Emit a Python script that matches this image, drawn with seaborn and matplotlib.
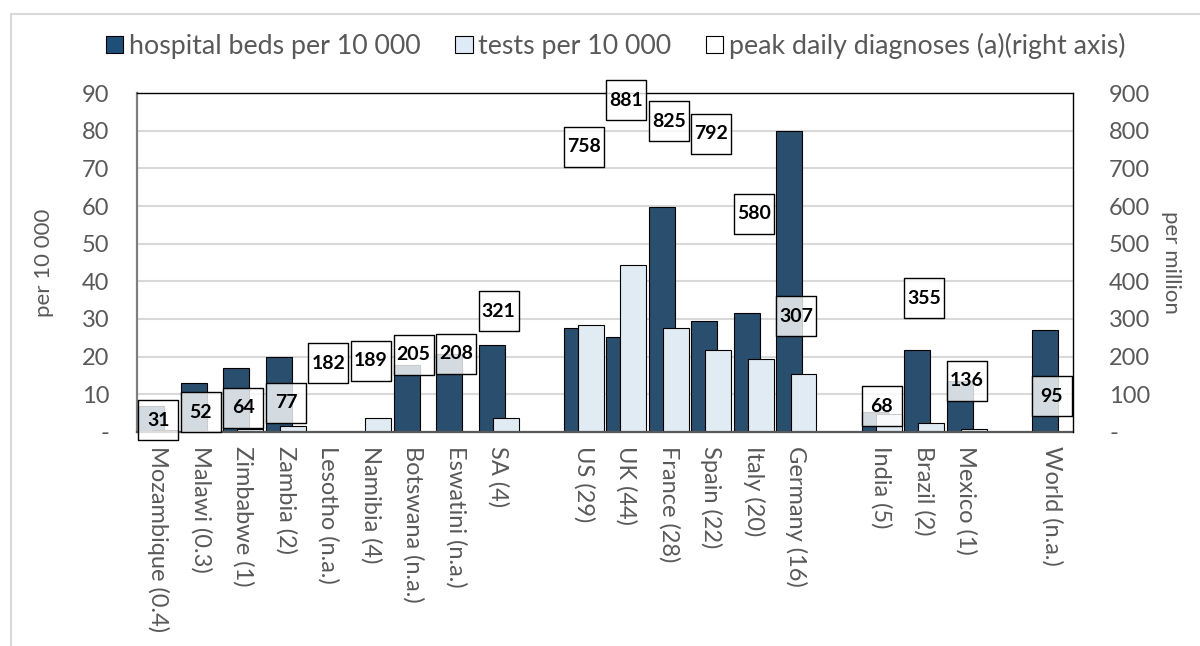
import numpy as np
import pandas as pd
import seaborn as sns
from matplotlib import pyplot as plt
from matplotlib.patches import Patch, Rectangle

# Categories (blank entries are the gaps between country groups)
countries = ["Mozambique (0.4)", "Malawi (0.3)", "Zimbabwe (1)", "Zambia (2)", "Lesotho (n.a.)",
             "Namibia (4)", "Botswana (n.a.)", "Eswatini (n.a.)", "SA (4)", " ",
             "US (29)", "UK (44)", "France (28)", "Spain (22)", "Italy (20)", "Germany (16)", "  ",
             "India (5)", "Brazil (2)", "Mexico (1)", "   ", "World (n.a.)"]
nan = np.nan
hospital_beds = [6.9, 13, 17, 20, nan, nan, 17.8, 20.8, 23.1, nan,
                 27.6, 25.3, 59.8, 29.6, 31.6, 80, nan,
                 5.2, 21.8, 13.6, nan, 27]
tests = [0.4, 0.3, 0.7, 1.6, nan, 3.6, nan, nan, 3.8, nan,
         28.5, 44.4, 27.6, 21.8, 19.5, 15.3, nan,
         4.8, 2.3, 0.7, nan, nan]
peak_diagnoses = [31, 52, 64, 77, 182, 189, 205, 208, 321, nan,
                  758, 881, 825, 792, 580, 307, nan,
                  68, 355, 136, nan, 95]

series_names = ["hospital beds per 10 000", "tests per 10 000"]
peak_name = "peak daily diagnoses (a)(right axis)"
dark_blue = "#1f4e79"
light_blue = "#deebf7"
grey_text = "#595959"


def main():
    sns.set_style("white")
    plt.rcParams["font.family"] = ["Lato", "DejaVu Sans"]

    bars_df = pd.DataFrame({
        "country": countries * 2,
        "series": [series_names[0]] * len(countries) + [series_names[1]] * len(countries),
        "value": hospital_beds + tests,
    })
    peak_df = pd.DataFrame({"country": countries, "peak": peak_diagnoses}).dropna()
    peak_df["pos"] = [countries.index(c) for c in peak_df["country"]]

    fig = plt.figure(figsize=(12, 6.46), dpi=100)
    ax = fig.add_axes([0.1142, 0.3313, 0.7800, 0.5247])

    sns.barplot(data=bars_df, x="country", y="value", hue="series", order=countries,
                hue_order=series_names, palette=[dark_blue, light_blue], width=0.66,
                dodge=True, errorbar=None, edgecolor="black", linewidth=0.8,
                legend=False, ax=ax)
    # Excel-style overlapping bars: widen each bar around its own centre
    for bar in ax.patches:
        cx = bar.get_x() + bar.get_width() / 2
        bar.set_width(0.61)
        bar.set_x(cx - 0.305)

    ax.set_xlim(-0.5, len(countries) - 0.5)
    ax.set_ylim(0, 90)
    ax.set_yticks(range(0, 91, 10))
    ax.set_yticklabels(["-"] + [str(v) for v in range(10, 91, 10)])
    ax.yaxis.grid(True, color="#d9d9d9", linewidth=1.5)
    ax.set_axisbelow(True)
    ax.set_xlabel("")
    ax.set_ylabel("per 10 000", fontsize=16, color=grey_text, labelpad=20)
    ax.tick_params(axis="y", length=0, pad=20, labelsize=17, labelcolor=grey_text)
    ax.tick_params(axis="x", length=0, pad=10, labelcolor=grey_text, labelsize=17,
                   labelrotation=270)

    ax2 = ax.twinx()
    ax2.set_ylim(0, 900)
    ax2.set_yticks(range(0, 901, 100))
    ax2.set_yticklabels(["-"] + [str(v) for v in range(100, 901, 100)])
    ax2.tick_params(axis="y", length=0, pad=26, labelsize=17, labelcolor=grey_text)
    ax2.set_ylabel("per million", fontsize=16, color=grey_text, rotation=270, labelpad=22)

    sns.scatterplot(data=peak_df, x="pos", y="peak", marker="s", s=800,
                    facecolor=(1, 1, 1, 0.8), edgecolor="black", linewidth=1,
                    clip_on=False, zorder=5, legend=False, ax=ax2)
    for _, row in peak_df.iterrows():
        ax2.text(row["pos"], row["peak"], f"{int(row['peak'])}", ha="center", va="center",
                 fontsize=14, fontweight="bold", color="black", zorder=6, clip_on=False)
    ax2.set_xlim(-0.5, len(countries) - 0.5)
    ax2.set_xlabel("")

    # Spines
    for side in ["top", "right"]:
        ax.spines[side].set_visible(False)
    for side in ["left", "bottom"]:
        ax2.spines[side].set_visible(False)
    ax.spines["left"].set_color("#7f7f7f")
    ax.spines["left"].set_linewidth(1.6)
    ax.spines["bottom"].set_color("#595959")
    ax.spines["bottom"].set_linewidth(1.6)
    ax2.spines["top"].set_color("black")
    ax2.spines["right"].set_color("black")
    ax2.spines["top"].set_linewidth(1)
    ax2.spines["right"].set_linewidth(1)

    handles = [Patch(facecolor=dark_blue, edgecolor="black", linewidth=0.8),
               Patch(facecolor=light_blue, edgecolor="black", linewidth=0.8),
               Patch(facecolor="white", edgecolor="black", linewidth=0.8)]
    leg = fig.legend(handles, series_names + [peak_name], loc="center",
                     bbox_to_anchor=(0.513, 0.929), ncol=3, frameon=False, fontsize=19.3,
                     handlelength=0.65, handleheight=0.65, handletextpad=0.2,
                     columnspacing=1.3)
    for t in leg.get_texts():
        t.set_color(grey_text)

    # Light chart-area border
    fig.patches.append(Rectangle((11 / 1200, -0.1), 1.2, 1.1 - 14 / 646, transform=fig.transFigure,
                                 fill=False, edgecolor="#d9d9d9", linewidth=1.5))

    fig.savefig("out.png", dpi=100)


if __name__ == "__main__":
    main()
